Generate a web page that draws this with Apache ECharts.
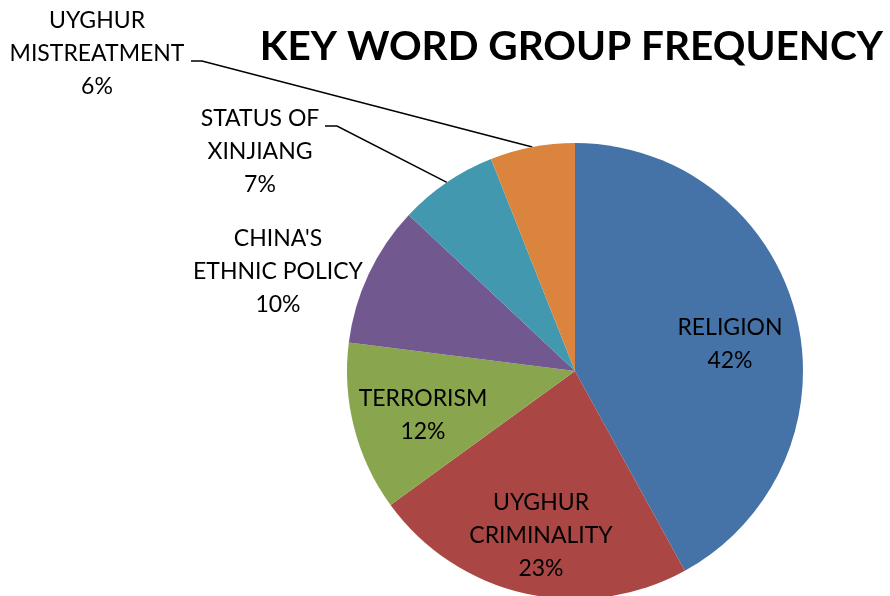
<!DOCTYPE html>
<html>
<head>
<meta charset="utf-8">
<title>Key Word Group Frequency</title>
<script src="https://cdn.jsdelivr.net/npm/echarts@6/dist/echarts.min.js"></script>
<style>
  html, body { margin: 0; padding: 0; background: #ffffff; }
  #chart { width: 890px; height: 596px; }
</style>
</head>
<body>
<div id="chart"></div>
<script>
// Keyword groups, clockwise from 12 o'clock
const categories = [
  'RELIGION',
  'UYGHUR\nCRIMINALITY',
  'TERRORISM',
  "CHINA'S\nETHNIC POLICY",
  'STATUS OF\nXINJIANG',
  'UYGHUR\nMISTREATMENT'
];
const shares = [42, 23, 12, 10, 7, 6];
const sliceColors = ['#4572A7', '#AA4643', '#89A54E', '#71588F', '#4198AF', '#DB843D'];

// Pie geometry
const CX = 575, CY = 371, R = 228;
const FONT = 'Lato, "Open Sans", sans-serif';

// Mid-angle of each slice (radians, measured clockwise from 12 o'clock)
const total = shares.reduce((a, b) => a + b, 0);
const midAngles = [];
let acc = 0;
shares.forEach(v => { midAngles.push((acc + v / 2) / total * Math.PI * 2); acc += v; });
const onCircle = (a, r) => [CX + r * Math.sin(a), CY - r * Math.cos(a)];

// Label anchors (block centres); small slices get a leader with an elbow
const labelPlacement = {
  0: { x: 730, y: 344 },
  1: { x: 541, y: 536 },
  2: { x: 423, y: 415 },
  3: { x: 278, y: 272, outside: true },
  4: { x: 260, y: 152, outside: true, elbow: [337, 126], tail: [325, 126] },
  5: { x: 97,  y: 54,  outside: true, elbow: [202, 61],  tail: [191, 61] }
};

const chart = echarts.init(document.getElementById('chart'), null, { renderer: 'canvas' });

chart.setOption({
  animation: false,
  backgroundColor: '#ffffff',
  title: {
    text: 'KEY WORD GROUP FREQUENCY',
    right: 2,
    top: 21,
    textStyle: { fontFamily: FONT, fontWeight: 'bold', fontSize: 40.5, color: '#000000' }
  },
  series: [{
    type: 'pie',
    center: [CX, CY],
    radius: [0, R],
    startAngle: 90,
    clockwise: true,
    avoidLabelOverlap: false,
    emphasis: { disabled: true },
    itemStyle: { borderWidth: 0 },
    label: {
      formatter: '{b}\n{d}%',
      fontFamily: FONT,
      fontSize: 23,
      lineHeight: 33,
      color: '#000000',
      align: 'center'
    },
    labelLine: {
      show: true,
      length: 10,
      length2: 10,
      lineStyle: { color: '#000000', width: 1.5 }
    },
    labelLayout: function (p) {
      const i = p.dataIndex;
      const c = labelPlacement[i];
      const out = { x: c.x, y: c.y, align: 'center', verticalAlign: 'middle' };
      if (c.elbow) {
        out.labelLinePoints = [onCircle(midAngles[i], R), c.elbow, c.tail];
      }
      return out;
    },
    data: categories.map((name, i) => ({
      name: name,
      value: shares[i],
      itemStyle: { color: sliceColors[i] },
      label: { position: labelPlacement[i].outside ? 'outside' : 'inside' },
      labelLine: { show: !!labelPlacement[i].elbow }
    }))
  }]
});
</script>
</body>
</html>
